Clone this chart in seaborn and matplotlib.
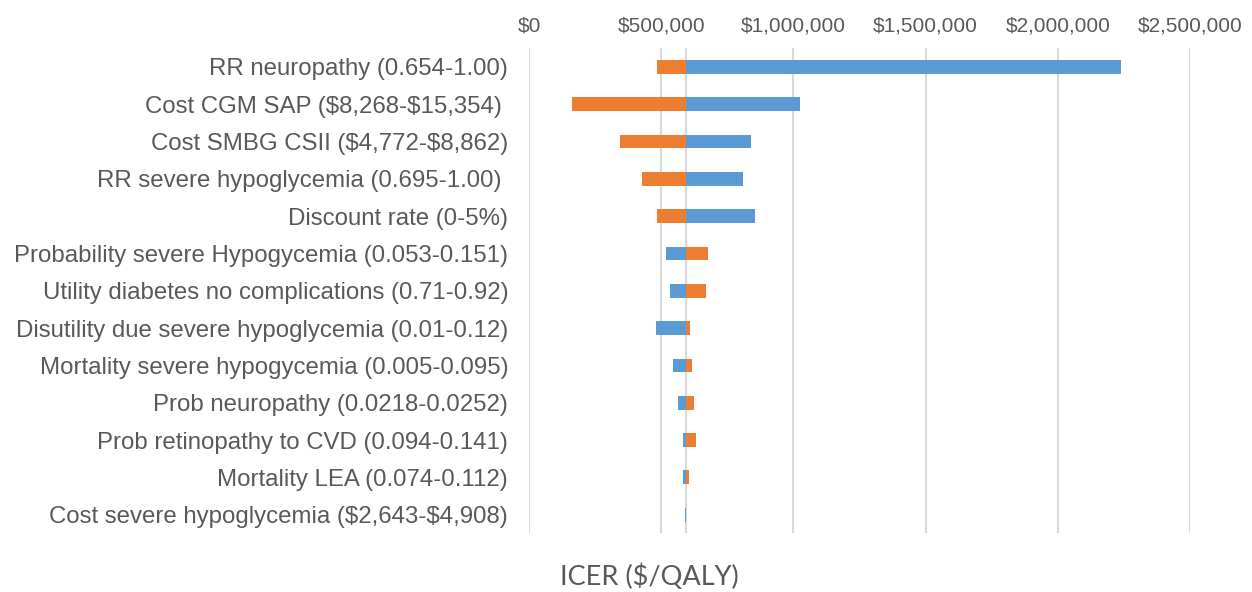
import pandas as pd
import matplotlib.pyplot as plt
import seaborn as sns

sns.set_theme(style="whitegrid")
plt.rcParams['font.family'] = ['Liberation Sans', 'DejaVu Sans']

# parametros do tornado (ordem de cima para baixo)
parametros = [
    "RR neuropathy (0.654-1.00)",
    "Cost CGM SAP ($8,268-$15,354) ",
    "Cost SMBG CSII ($4,772-$8,862)",
    "RR severe hypoglycemia (0.695-1.00) ",
    "Discount rate (0-5%)",
    "Probability severe Hypogycemia (0.053-0.151)",
    "Utility diabetes no complications (0.71-0.92)",
    "Disutility due severe hypoglycemia (0.01-0.12)",
    "Mortality severe hypogycemia (0.005-0.095)",
    "Prob neuropathy (0.0218-0.0252)",
    "Prob retinopathy to CVD (0.094-0.141)",
    "Mortality LEA (0.074-0.112)",
    "Cost severe hypoglycemia ($2,643-$4,908)",
]
icer_azul = [2237500, 1026000, 840000, 810000, 853000, 517000, 532000,
             479000, 543000, 564500, 582500, 582500, 591000]
icer_laranja = [485500, 164000, 346000, 429000, 485500, 677000, 669000,
                609000, 616000, 624000, 631500, 605000, 593000]
ICER_BASE = 593000
ticks_x = [0, 500000, 1000000, 1500000, 2000000, 2500000]

COR_TEXTO = '#595959'
COR_GRADE = '#D9D9D9'


def gerar_grafico():
    df = pd.DataFrame({
        'parametro': parametros * 2,
        'delta': [v - ICER_BASE for v in icer_azul] + [v - ICER_BASE for v in icer_laranja],
        'serie': ['azul'] * len(parametros) + ['laranja'] * len(parametros),
    })

    fig = plt.figure(figsize=(12.52, 5.92), dpi=100)
    ax = fig.add_axes([529 / 1252, 1 - 533.3 / 592, 661 / 1252, 485 / 592])

    sns.barplot(data=df, x='delta', y='parametro', hue='serie', dodge=False,
                palette={'azul': '#5B9BD5', 'laranja': '#ED7D31'}, saturation=1,
                width=0.37, left=ICER_BASE, legend=False, linewidth=0, ax=ax)

    ax.set_xlim(0, 2500000)
    ax.set_ylim(len(parametros) - 0.5, -0.5)
    ax.set_xticks(ticks_x)
    ax.set_xticklabels([f"${v:,.0f}" for v in ticks_x])
    ax.set_yticks(range(len(parametros)))
    ax.set_yticklabels([p.replace('$', r'\$') for p in parametros])
    ax.xaxis.tick_top()
    ax.tick_params(axis='x', length=0, pad=9, labelsize=15, labelcolor=COR_TEXTO)
    ax.tick_params(axis='y', length=0, pad=15, labelsize=17.25, labelcolor=COR_TEXTO)
    ax.set_xlabel('')
    ax.set_ylabel('')

    ax.grid(axis='x', color=COR_GRADE, linewidth=1.5)
    ax.grid(axis='y', visible=False)
    ax.axvline(ICER_BASE, color=COR_GRADE, linewidth=1.5, zorder=0.5)
    for lado in ax.spines.values():
        lado.set_visible(False)

    fig.text(649 / 1252, 1 - 577 / 592, 'ICER ($/QALY)', ha='center', va='center',
             fontsize=19.5, color=COR_TEXTO, family=['Lato', 'DejaVu Sans'])

    fig.savefig('out.png', dpi=100)
    plt.close(fig)


if __name__ == "__main__":
    gerar_grafico()
